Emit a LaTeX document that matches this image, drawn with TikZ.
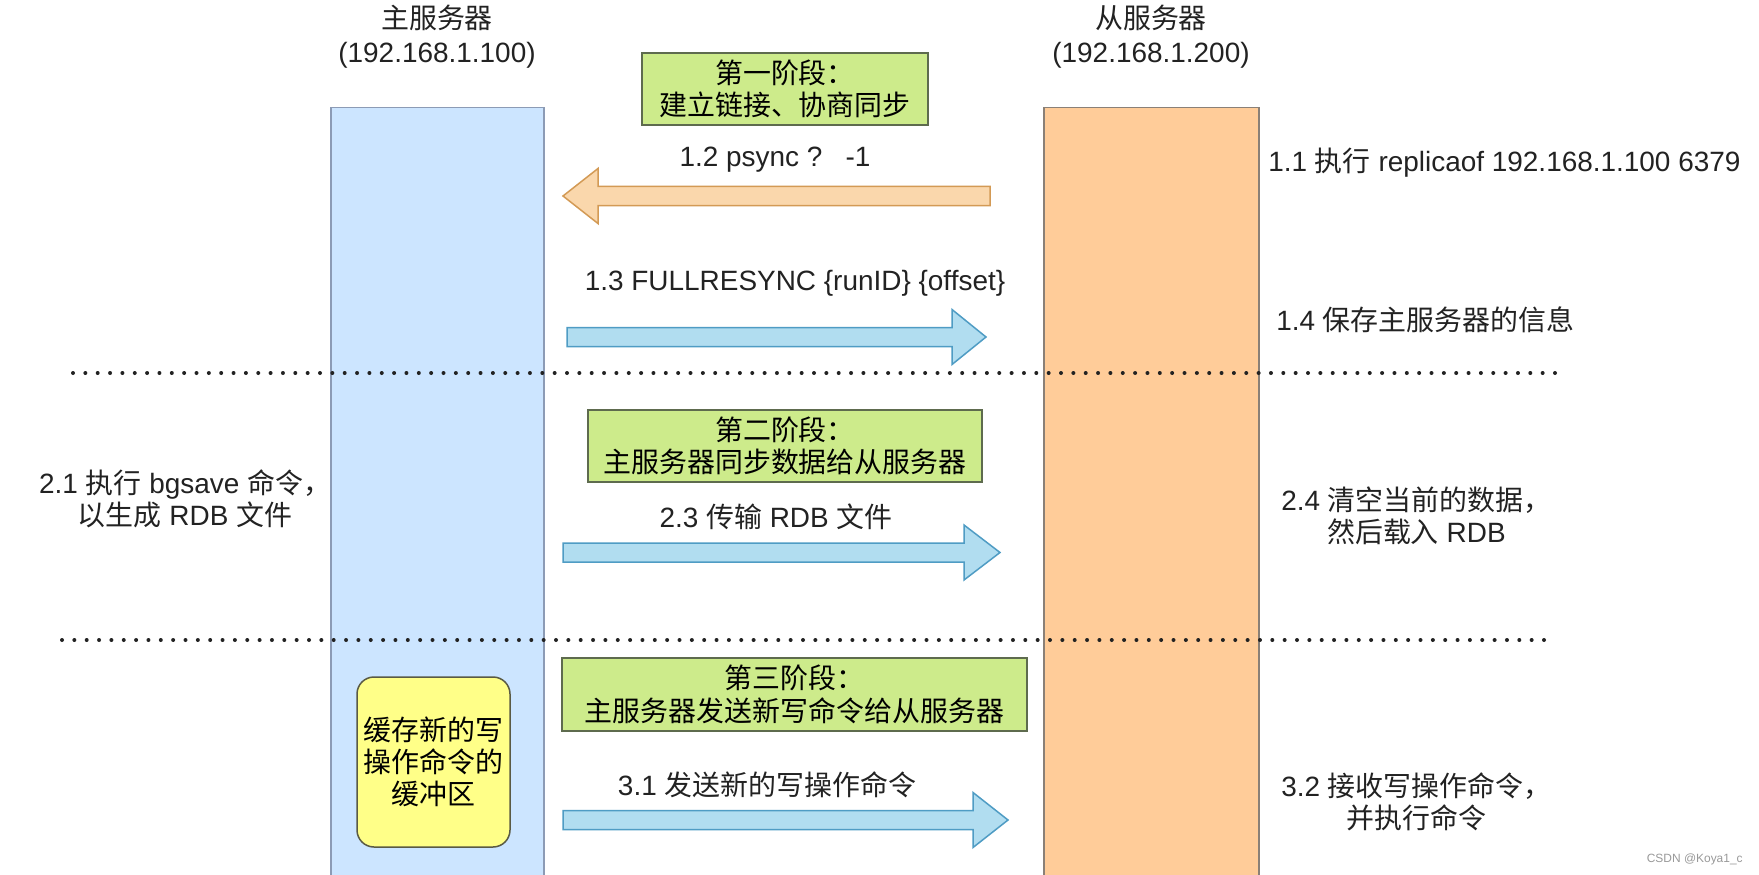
\documentclass[tikz,border=0pt]{standalone}
\usepackage{fontspec}
\setmainfont{Liberation Sans}
\newfontfamily\zh{Noto Sans CJK SC}
\usetikzlibrary{positioning}
\newdimen\pxu \pxu=0.02cm
\definecolor{masterfill}{HTML}{CCE5FF}
\definecolor{masteredge}{HTML}{8C9BB5}
\definecolor{slavefill}{HTML}{FFCC99}
\definecolor{slaveedge}{HTML}{8A8077}
\definecolor{phasefill}{HTML}{CDEB8B}
\definecolor{phaseedge}{HTML}{5E6B4E}
\definecolor{buffill}{HTML}{FFFF88}
\definecolor{bufedge}{HTML}{5A5A44}
\definecolor{sendfill}{HTML}{B1DDF0}
\definecolor{sendedge}{HTML}{4F9CC4}
\definecolor{askfill}{HTML}{FAD7AC}
\definecolor{askedge}{HTML}{D39A55}
\definecolor{ink}{HTML}{222222}
\tikzset{
    column/.style={draw, line width=1.5\pxu, anchor=north, minimum height=790\pxu},
    mastercol/.style={column, draw=masteredge, fill=masterfill, minimum width=213\pxu},
    slavecol/.style={column, draw=slaveedge, fill=slavefill, minimum width=215\pxu},
    phase/.style={draw=phaseedge, fill=phasefill, line width=1.5\pxu, align=center, inner sep=0pt},
    bufbox/.style={draw=bufedge, fill=buffill, line width=1.5\pxu, rounded corners=17\pxu, align=center,
        minimum width=153\pxu, minimum height=170\pxu, inner sep=0pt},
    label/.style={text=ink, inner sep=0pt, align=center},
    sendarrow/.style={draw=sendedge, fill=sendfill, line width=1.5\pxu, line join=miter},
    askarrow/.style={draw=askedge, fill=askfill, line width=1.5\pxu, line join=miter},
    sepline/.style={draw=ink, line width=4\pxu, line cap=round, dash pattern=on 0pt off 12.35\pxu},
}
% block arrow: style, tail x, head base x, tip x, y
\newcommand{\blockarrow}[5]{%
    \filldraw[#1] (#2,#5-9.5) -- (#3,#5-9.5) -- (#3,#5-27.5) -- (#4,#5)
        -- (#3,#5+27.5) -- (#3,#5+9.5) -- (#2,#5+9.5) -- cycle;}

\begin{document}
\begin{tikzpicture}[x=\pxu, y=-\pxu, every node/.style={font=\fontsize{15.9}{18.4}\selectfont}]
    \useasboundingbox[fill=white] (0,0) rectangle (1759,875);

    % servers
    \node[mastercol] (master) at (437.5,107) {};
    \node[slavecol] (slave) at (1151.5,107) {};
    \node[label] (mastername) at (437,18) {\zh 主服务器};
    \node[label] (masterip) at (437,55) {(192.168.1.100)};
    \node[label] (slavename) at (1151,18) {\zh 从服务器};
    \node[label] (slaveip) at (1151,55) {(192.168.1.200)};

    % stage lines
    \coordinate (sepA) at (73,373);
    \coordinate (sepB) at (1558,373);
    \coordinate (sepC) at (62,640);
    \coordinate (sepD) at (1550,640);
    \draw[sepline] (sepA) -- (sepB);
    \draw[sepline] (sepC) -- (sepD);

    % stage 1
    \node[phase, minimum width=286\pxu, minimum height=72\pxu] (phaseone) at (785,89)
        {\zh 第一阶段：\\\zh 建立链接、协商同步};
    \node[label] (psync) at (775,160) {1.2 psync ?\ \ \ -1};
    \blockarrow{askarrow}{990}{598}{563}{196}
    \node[label, anchor=west] (replicaof) at (1268,163) {1.1 {\zh 执行} replicaof 192.168.1.100 6379};
    \node[label] (fullresync) at (795,283) {1.3 FULLRESYNC \{runID\} \{offset\}};
    \blockarrow{sendarrow}{567}{952}{986}{337}
    \node[label, anchor=west] (saveinfo) at (1276,320) {1.4 {\zh 保存主服务器的信息}};

    % stage 2
    \node[phase, minimum width=394\pxu, minimum height=72\pxu] (phasetwo) at (785,446)
        {\zh 第二阶段：\\\zh 主服务器同步数据给从服务器};
    \node[label] (bgsave) at (185,499) {2.1 {\zh 执行} bgsave {\zh 命令，}\\{\zh 以生成} RDB {\zh 文件}};
    \node[label] (sendrdb) at (776,517) {2.3 {\zh 传输} RDB {\zh 文件}};
    \blockarrow{sendarrow}{563}{964}{1000}{552.5}
    \node[label, anchor=west] (loadrdb) at (1281,516) {2.4 {\zh 清空当前的数据，}\\{\zh 然后载入} RDB};

    % stage 3
    \node[phase, minimum width=465\pxu, minimum height=73\pxu] (phasethree) at (794.5,694.5)
        {\zh 第三阶段：\\\zh 主服务器发送新写命令给从服务器};
    \node[bufbox] (buffer) at (433.5,762) {\zh 缓存新的写\\\zh 操作命令的\\\zh 缓冲区};
    \node[label] (sendcmd) at (767,785) {3.1 {\zh 发送新的写操作命令}};
    \blockarrow{sendarrow}{563}{973}{1008}{820}
    \node[label, anchor=west] (runcmd) at (1281,802) {3.2 {\zh 接收写操作命令，}\\{\zh 并执行命令}};

    \node[inner sep=0pt, anchor=east, text=gray!80, font=\fontsize{6.8}{8}\selectfont] (mark) at (1743,859) {CSDN @Koya1\_c};
\end{tikzpicture}
\end{document}
